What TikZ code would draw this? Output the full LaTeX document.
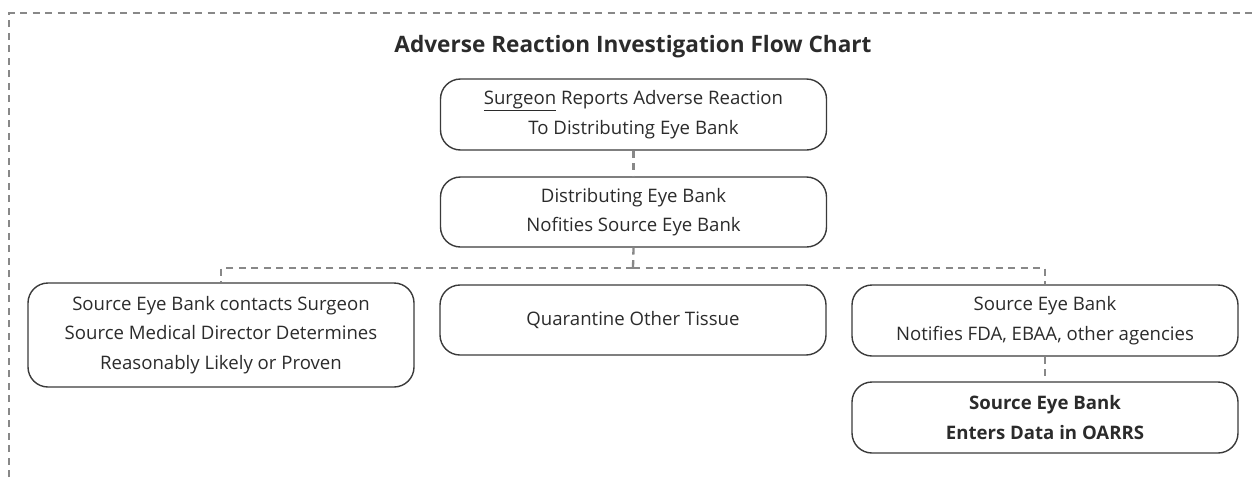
\documentclass[tikz,border=0pt]{standalone}
\usepackage{fontspec}
\setmainfont{Open Sans}
\definecolor{txt}{HTML}{2B2B2B}
\definecolor{dash}{HTML}{888888}
\definecolor{edge}{HTML}{3A3A3A}
\begin{document}
\begin{tikzpicture}[x=1pt,y=-1pt,
  stepbox/.style={draw=edge,line width=1.4pt,rounded corners=20pt,minimum width=386pt,
    align=center,text=txt,font=\fontsize{18.6}{29.5}\selectfont,inner sep=0pt},
  link/.style={draw=dash,line width=2.3pt,dash pattern=on 7pt off 5.5pt}]
\useasboundingbox (0,0) rectangle (1252,477);
\draw[link] (9,477) -- (9,13) -- (1252,13);
\node[font=\fontsize{22.6}{26}\selectfont\bfseries,text=txt] (title) at (633,47) {Adverse Reaction Investigation Flow Chart};
\node[stepbox,minimum height=71pt] (b1) at (633.5,114.5) {\underline{Surgeon} Reports Adverse Reaction\\To Distributing Eye Bank};
\node[stepbox,minimum height=70pt] (b2) at (633.5,212) {Distributing Eye Bank\\Nofities Source Eye Bank};
\node[stepbox,minimum height=104pt] (l) at (221,335) {Source Eye Bank contacts Surgeon\\Source Medical Director Determines\\Reasonably Likely or Proven};
\node[stepbox,minimum height=70pt] (m) at (633,320) {Quarantine Other Tissue};
\node[stepbox,minimum height=71pt] (r1) at (1045,320.5) {Source Eye Bank\\Notifies FDA, EBAA, other agencies};
\node[stepbox,minimum height=71pt,font=\fontsize{18.6}{29.5}\selectfont\bfseries] (r2) at (1045,417.5) {Source Eye Bank\\Enters Data in OARRS};
\coordinate (bus) at (633,268);
\draw[link] (b1.south) -- (b2.north);
\draw[link] (b2.south) -- (bus);
\draw[link] (bus) -- (bus -| l.north) -- (l.north);
\draw[link] (bus) -- (bus -| r1.north) -- (r1.north);
\draw[link] (r1.south) -- (r2.north);
\end{tikzpicture}
\end{document}
